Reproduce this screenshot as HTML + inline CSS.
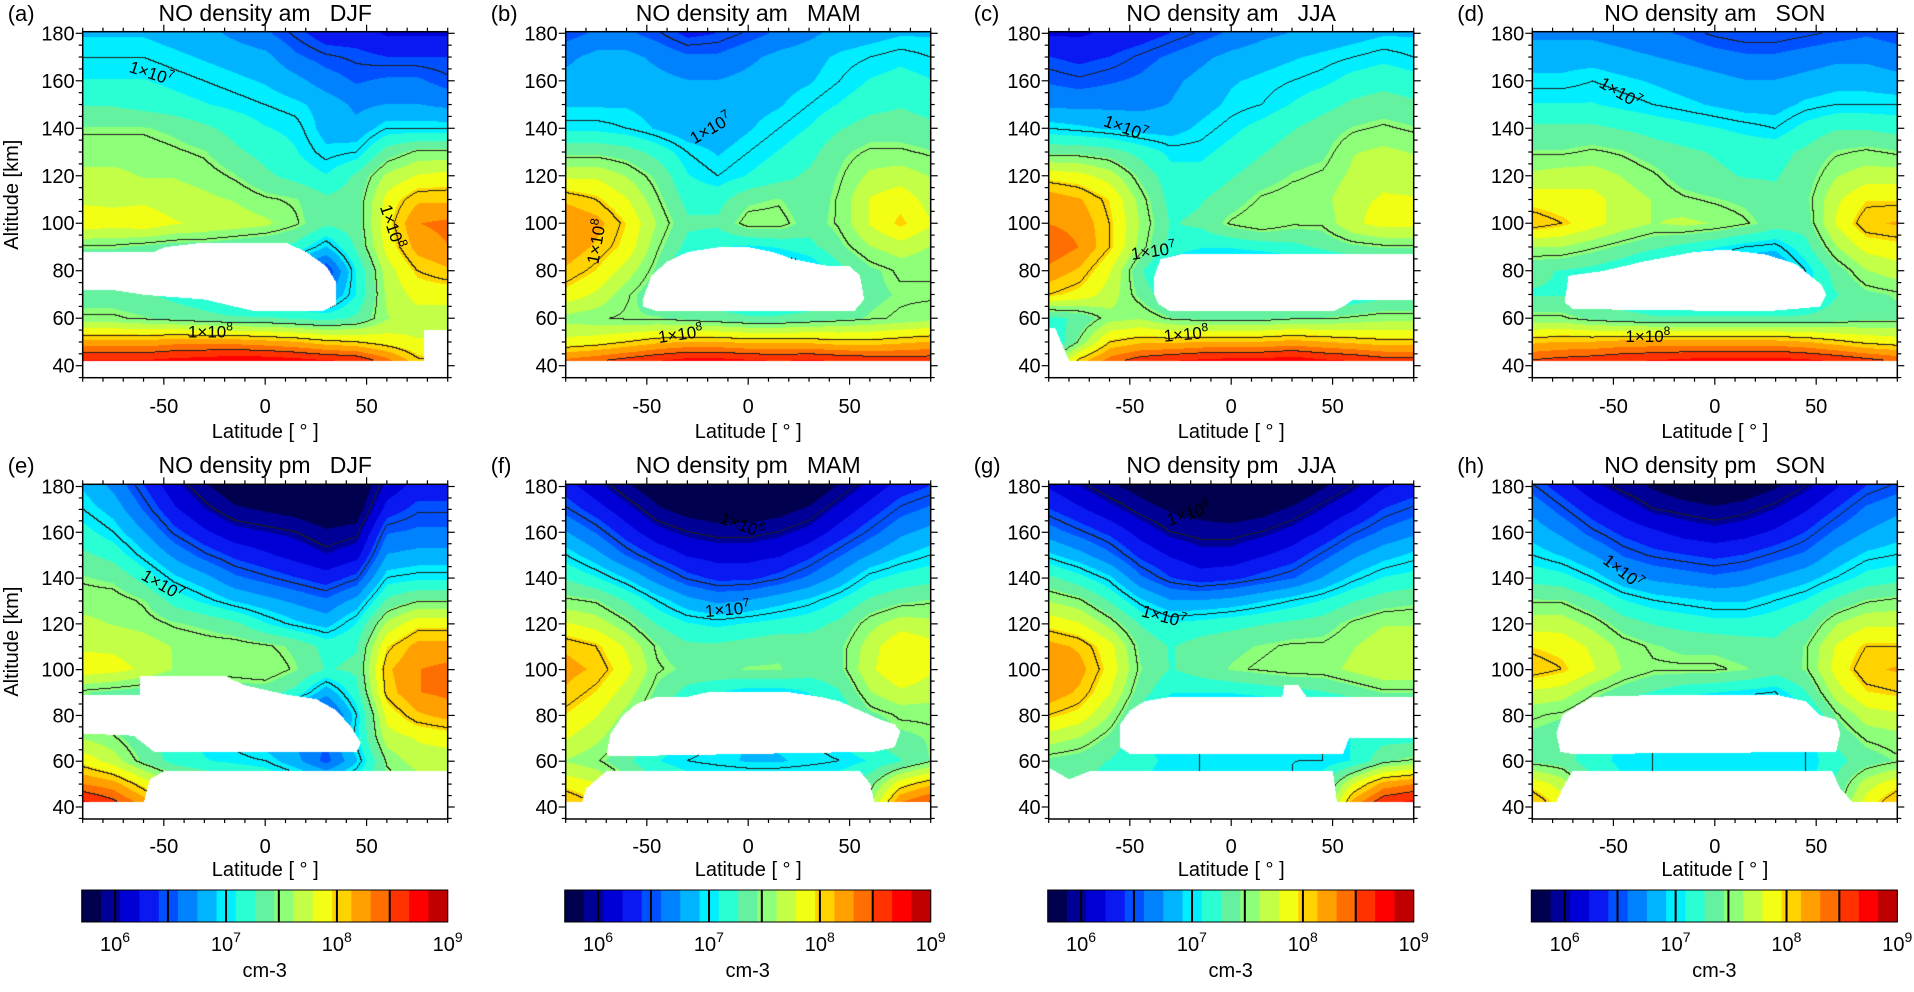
<!DOCTYPE html>
<html><head><meta charset="utf-8">
<style>
html,body{margin:0;padding:0;background:#fff;}
#wrap{position:relative;width:1914px;height:992px;overflow:hidden;font-family:"Liberation Sans",sans-serif;}
canvas{position:absolute;}
svg{position:absolute;left:0;top:0;}
</style></head>
<body>
<div id="wrap">
<svg id="svg" width="1914" height="992"></svg>
</div>
<script>
// ---- data (log10 NO density), rows alt 180..40 step 10, cols lat -90..90 step 15 ----
const lats=[-90,-75,-60,-45,-30,-15,0,15,30,45,60,75,90];
const alts=[180,170,160,150,140,130,120,110,100,90,80,70,60,50,40];
const gridA=[
[6.9,6.9,6.9,6.85,6.8,6.7,6.6,6.45,6.3,6.3,6.2,6.2,6.2],
[7.0,7.0,7.0,6.95,6.9,6.85,6.8,6.6,6.5,6.45,6.4,6.4,6.4],
[7.1,7.1,7.1,7.05,7.0,6.95,6.9,6.8,6.65,6.55,6.6,6.6,6.5],
[7.25,7.25,7.2,7.15,7.1,7.05,7.0,6.95,6.85,6.7,6.75,6.75,6.7],
[7.45,7.45,7.45,7.4,7.3,7.2,7.1,7.05,6.85,6.8,7.0,7.0,7.0],
[7.55,7.55,7.55,7.5,7.45,7.3,7.2,7.1,6.95,7.0,7.35,7.5,7.5],
[7.65,7.65,7.6,7.6,7.55,7.45,7.3,7.2,7.1,7.3,7.65,7.8,7.85],
[7.75,7.75,7.75,7.7,7.65,7.6,7.5,7.45,7.3,7.35,7.85,8.1,8.1],
[7.9,7.85,7.9,7.8,7.75,7.7,7.65,7.5,7.3,7.35,7.9,8.3,8.35],
[7.45,7.45,7.4,7.35,7.35,7.3,7.25,7.2,6.9,7.3,7.85,8.2,8.3],
[7.3,7.3,7.25,7.2,7.1,7.0,6.8,6.6,6.4,7.1,7.7,8.0,8.1],
[7.35,7.35,7.3,7.2,7.1,6.9,6.8,6.8,6.7,7.1,7.65,7.85,7.85],
[7.5,7.5,7.45,7.4,7.35,7.3,7.3,7.25,7.2,7.3,7.6,7.7,7.7],
[8.2,8.2,8.2,8.25,8.25,8.25,8.2,8.15,8.05,8.0,7.9,7.8,7.8],
[8.8,8.8,8.8,8.85,8.9,8.95,8.95,8.9,8.85,8.8,8.5,8.1,8.0]];
const gridB=[
[6.5,6.6,6.6,6.5,6.35,6.4,6.5,6.6,6.7,6.8,6.85,6.9,6.9],
[6.7,6.8,6.8,6.7,6.6,6.6,6.7,6.8,6.85,6.95,7.0,7.05,7.0],
[6.8,6.85,6.85,6.8,6.75,6.75,6.8,6.85,6.9,7.0,7.1,7.15,7.1],
[6.9,6.9,6.9,6.85,6.8,6.8,6.85,6.9,7.0,7.1,7.2,7.25,7.2],
[7.05,7.05,7.0,6.9,6.8,6.8,6.9,7.0,7.1,7.25,7.35,7.35,7.3],
[7.4,7.4,7.35,7.2,7.0,6.9,7.0,7.1,7.2,7.4,7.5,7.5,7.45],
[7.75,7.75,7.6,7.4,7.1,7.0,7.1,7.2,7.3,7.45,7.65,7.7,7.6],
[8.1,8.0,7.8,7.5,7.2,7.2,7.4,7.45,7.3,7.5,7.8,7.9,7.7],
[8.3,8.2,7.95,7.6,7.3,7.3,7.55,7.55,7.35,7.5,7.8,8.0,7.8],
[8.25,8.1,7.9,7.5,7.2,7.1,7.05,7.1,7.2,7.4,7.6,7.7,7.6],
[8.1,7.95,7.7,7.4,7.0,6.8,6.8,6.8,6.9,7.2,7.4,7.5,7.5],
[7.9,7.75,7.5,7.3,7.2,7.1,7.0,7.0,7.05,7.25,7.4,7.45,7.45],
[7.55,7.5,7.45,7.45,7.4,7.35,7.3,7.3,7.35,7.4,7.45,7.5,7.55],
[7.85,7.9,8.0,8.1,8.15,8.15,8.1,8.1,8.1,8.05,8.05,8.1,8.15],
[8.5,8.6,8.7,8.8,8.9,8.9,8.85,8.8,8.85,8.8,8.75,8.7,8.7]];
const gridC=[
[6.2,6.2,6.25,6.3,6.4,6.5,6.6,6.7,6.75,6.8,6.85,6.9,6.9],
[6.4,6.35,6.4,6.5,6.6,6.7,6.8,6.85,6.9,6.95,7.0,7.05,7.0],
[6.55,6.5,6.55,6.6,6.7,6.8,6.9,6.95,7.0,7.05,7.15,7.2,7.15],
[6.7,6.7,6.7,6.7,6.75,6.85,6.95,7.0,7.1,7.2,7.3,7.35,7.3],
[7.0,6.95,6.9,6.85,6.85,6.95,7.05,7.15,7.25,7.35,7.45,7.5,7.45],
[7.4,7.4,7.35,7.2,7.05,7.05,7.15,7.25,7.35,7.4,7.6,7.65,7.6],
[7.9,7.85,7.7,7.4,7.15,7.15,7.25,7.35,7.45,7.5,7.65,7.75,7.7],
[8.25,8.15,7.95,7.55,7.2,7.25,7.35,7.5,7.55,7.55,7.75,7.8,7.8],
[8.3,8.25,8.0,7.6,7.25,7.3,7.5,7.6,7.5,7.5,7.75,7.85,7.85],
[8.45,8.3,8.0,7.55,7.2,7.1,7.1,7.15,7.2,7.3,7.4,7.45,7.45],
[8.25,8.1,7.8,7.3,6.9,6.8,6.8,6.8,6.85,6.9,6.95,7.0,7.0],
[8.0,7.9,7.7,7.4,7.1,7.0,7.0,7.0,7.0,7.05,7.1,7.2,7.2],
[7.2,7.3,7.55,7.6,7.45,7.4,7.4,7.4,7.45,7.45,7.5,7.55,7.55],
[7.0,7.5,8.0,8.1,8.1,8.15,8.15,8.15,8.2,8.15,8.1,8.05,8.05],
[7.5,8.2,8.5,8.7,8.8,8.85,8.9,8.9,8.95,8.85,8.8,8.7,8.7]];
const gridD=[
[6.7,6.7,6.7,6.65,6.6,6.55,6.45,6.4,6.4,6.45,6.5,6.55,6.5],
[6.85,6.85,6.85,6.8,6.75,6.7,6.65,6.6,6.6,6.65,6.7,6.7,6.65],
[6.95,6.95,7.0,6.95,6.9,6.85,6.8,6.75,6.75,6.8,6.85,6.85,6.8],
[7.1,7.1,7.1,7.05,7.0,6.95,6.9,6.85,6.85,6.95,7.0,7.0,7.0],
[7.3,7.3,7.3,7.25,7.2,7.15,7.1,7.05,7.0,7.15,7.25,7.25,7.2],
[7.45,7.45,7.5,7.45,7.35,7.3,7.25,7.2,7.2,7.3,7.45,7.5,7.45],
[7.65,7.7,7.7,7.6,7.5,7.35,7.3,7.25,7.25,7.35,7.6,7.7,7.7],
[7.9,7.85,7.85,7.7,7.6,7.5,7.45,7.4,7.3,7.4,7.75,7.95,7.95],
[8.1,8.0,7.85,7.7,7.6,7.65,7.6,7.5,7.35,7.35,7.8,8.1,8.15],
[7.6,7.6,7.5,7.4,7.3,7.2,7.1,7.0,6.95,7.2,7.6,7.85,7.9],
[7.3,7.25,7.2,7.1,6.9,6.8,6.7,6.7,6.7,7.0,7.35,7.6,7.7],
[7.25,7.25,7.2,7.1,7.0,6.95,6.9,6.9,6.9,7.05,7.25,7.4,7.45],
[7.5,7.5,7.4,7.35,7.3,7.3,7.3,7.3,7.3,7.3,7.35,7.4,7.4],
[8.1,8.15,8.15,8.2,8.2,8.2,8.2,8.2,8.2,8.15,8.05,7.95,7.9],
[8.6,8.65,8.7,8.75,8.8,8.85,8.9,8.9,8.9,8.85,8.8,8.7,8.6]];
const gridE=[
[6.9,6.7,6.4,6.1,5.9,5.75,5.7,5.65,5.6,5.65,6.1,6.3,6.3],
[7.0,6.85,6.55,6.25,6.05,5.9,5.85,5.8,5.7,5.75,6.3,6.45,6.45],
[7.15,7.0,6.75,6.45,6.25,6.1,6.05,6.0,5.9,5.95,6.55,6.6,6.6],
[7.3,7.2,6.95,6.7,6.5,6.35,6.25,6.15,6.05,6.15,6.75,6.8,6.8],
[7.45,7.4,7.2,6.95,6.8,6.6,6.5,6.4,6.3,6.45,7.0,7.05,7.05],
[7.55,7.55,7.45,7.2,7.05,6.9,6.8,6.7,6.6,6.8,7.3,7.45,7.45],
[7.65,7.6,7.55,7.45,7.4,7.3,7.1,6.95,6.85,7.1,7.65,7.9,7.9],
[7.75,7.75,7.7,7.6,7.55,7.55,7.5,7.4,7.2,7.25,7.95,8.2,8.2],
[7.9,7.85,7.75,7.6,7.55,7.55,7.6,7.45,7.25,7.3,8.1,8.3,8.35],
[7.45,7.4,7.35,7.3,7.3,7.35,7.35,7.2,6.8,7.2,8.05,8.3,8.35],
[7.4,7.3,7.2,7.1,7.0,6.9,6.7,6.5,6.4,7.0,7.85,8.1,8.2],
[7.6,7.5,7.3,7.15,7.05,6.95,6.8,6.7,6.6,7.05,7.7,7.8,7.85],
[7.9,7.7,7.4,7.2,7.1,7.05,7.0,6.8,6.5,6.9,7.5,7.7,7.7],
[8.3,8.2,7.9,7.6,7.5,7.4,7.3,7.2,7.1,7.2,7.4,7.5,7.5],
[8.8,8.6,8.3,8.0,7.8,7.7,7.6,7.5,7.4,7.4,7.5,7.5,7.5]];
const gridF=[
[6.3,6.1,5.9,5.75,5.6,5.55,5.55,5.6,5.7,5.9,6.1,6.3,6.4],
[6.5,6.3,6.1,5.9,5.8,5.75,5.75,5.8,5.9,6.1,6.3,6.5,6.6],
[6.75,6.55,6.3,6.1,6.0,5.95,5.95,6.0,6.1,6.3,6.5,6.7,6.8],
[7.0,6.8,6.55,6.35,6.2,6.15,6.15,6.2,6.35,6.55,6.75,6.9,7.0],
[7.25,7.1,6.9,6.65,6.45,6.35,6.35,6.45,6.6,6.8,7.05,7.15,7.2],
[7.5,7.45,7.25,7.0,6.8,6.7,6.75,6.85,6.95,7.1,7.3,7.4,7.45],
[7.8,7.7,7.5,7.25,7.1,7.05,7.1,7.15,7.2,7.3,7.55,7.7,7.65],
[8.1,8.0,7.75,7.45,7.3,7.3,7.35,7.4,7.35,7.4,7.7,7.95,7.85],
[8.2,8.1,7.85,7.5,7.4,7.4,7.45,7.45,7.35,7.4,7.75,7.95,7.8],
[8.1,7.95,7.7,7.4,7.2,7.1,7.0,7.0,7.1,7.25,7.6,7.75,7.7],
[7.95,7.8,7.55,7.3,7.0,6.8,6.7,6.8,6.9,7.1,7.4,7.5,7.5],
[7.8,7.65,7.45,7.2,7.1,7.0,6.9,6.95,7.0,7.1,7.3,7.4,7.45],
[7.6,7.5,7.3,7.1,7.0,6.95,6.9,6.9,6.95,7.0,7.1,7.25,7.45],
[7.9,7.8,7.5,7.3,7.2,7.2,7.2,7.2,7.2,7.2,7.4,7.9,8.1],
[8.2,8.0,7.6,7.4,7.3,7.3,7.3,7.3,7.3,7.3,7.6,8.4,8.6]];
const gridG=[
[6.2,6.05,5.9,5.8,5.7,5.6,5.55,5.6,5.7,5.85,6.0,6.2,6.3],
[6.4,6.25,6.1,5.95,5.85,5.8,5.75,5.8,5.9,6.05,6.2,6.4,6.5],
[6.65,6.5,6.35,6.15,6.0,5.95,5.95,6.0,6.1,6.25,6.45,6.6,6.7],
[6.95,6.8,6.6,6.35,6.2,6.1,6.1,6.2,6.3,6.5,6.7,6.85,6.95],
[7.3,7.15,6.95,6.6,6.4,6.3,6.35,6.45,6.55,6.75,6.95,7.1,7.15],
[7.6,7.5,7.25,6.95,6.75,6.75,6.8,6.9,7.0,7.1,7.25,7.35,7.4],
[7.9,7.8,7.55,7.25,7.1,7.15,7.2,7.25,7.3,7.35,7.5,7.6,7.6],
[8.2,8.1,7.85,7.4,7.25,7.35,7.4,7.45,7.5,7.5,7.6,7.7,7.7],
[8.3,8.2,7.9,7.45,7.25,7.35,7.45,7.5,7.55,7.55,7.65,7.75,7.75],
[8.25,8.1,7.8,7.35,7.1,7.1,7.1,7.15,7.2,7.25,7.35,7.45,7.45],
[8.0,7.9,7.6,7.2,6.9,6.8,6.8,6.8,6.8,6.85,6.95,7.1,7.1],
[7.7,7.6,7.4,7.1,7.0,7.0,7.0,7.0,7.0,7.0,7.1,7.2,7.2],
[7.4,7.35,7.25,7.15,7.05,7.0,6.95,6.95,7.0,7.0,7.1,7.4,7.5],
[7.3,7.25,7.2,7.1,7.0,7.0,7.0,7.0,7.0,7.2,7.8,8.2,8.3],
[7.3,7.2,7.1,7.0,7.0,7.0,7.0,7.0,7.0,7.3,8.3,8.7,8.8]];
const gridH=[
[6.5,6.3,6.1,5.95,5.85,5.75,5.7,5.75,5.85,6.0,6.2,6.4,6.5],
[6.7,6.5,6.3,6.15,6.0,5.95,5.9,5.95,6.05,6.2,6.4,6.6,6.7],
[6.85,6.7,6.5,6.35,6.25,6.15,6.1,6.15,6.25,6.4,6.6,6.75,6.85],
[7.0,6.9,6.75,6.55,6.45,6.4,6.35,6.4,6.5,6.6,6.8,6.95,7.0],
[7.2,7.15,7.0,6.8,6.7,6.65,6.6,6.65,6.75,6.85,7.0,7.15,7.2],
[7.45,7.45,7.3,7.1,7.0,6.95,6.9,6.9,7.0,7.1,7.3,7.45,7.5],
[7.7,7.7,7.55,7.35,7.25,7.2,7.15,7.15,7.2,7.3,7.6,7.75,7.75],
[7.95,7.9,7.75,7.55,7.45,7.4,7.4,7.35,7.3,7.45,7.8,8.0,8.0],
[8.1,8.0,7.8,7.6,7.5,7.5,7.5,7.45,7.35,7.45,7.85,8.1,8.15],
[7.75,7.7,7.5,7.35,7.25,7.15,7.1,7.05,7.0,7.25,7.7,7.95,8.0],
[7.5,7.45,7.3,7.1,6.9,6.8,6.7,6.7,6.75,7.0,7.45,7.7,7.75],
[7.4,7.35,7.2,7.05,7.0,6.95,6.9,6.9,6.9,7.0,7.3,7.5,7.55],
[7.4,7.35,7.15,7.05,7.0,6.95,6.95,6.95,6.95,7.0,7.2,7.35,7.45],
[7.9,7.7,7.3,7.1,7.0,7.0,7.0,7.0,7.0,7.0,7.3,7.7,7.9],
[8.2,7.9,7.4,7.2,7.0,7.0,7.0,7.0,7.0,7.0,7.4,7.9,8.2]];
// no-data regions, polygons in (lat, alt)
const maskA=[[[-90,88],[-55,88],[-50,90],[-30,92],[10,92],[20,88],[30,82],[35,75],[35,66],[28,63],[-5,63],[-30,68],[-60,70],[-75,72],[-90,72]],[[78,35],[78,55],[90,55],[90,35]]];
const maskB=[[[-52,68],[-48,78],[-40,84],[-30,88],[-15,90],[0,90],[12,88],[22,85],[40,82],[50,82],[55,78],[57,68],[52,63],[-45,63],[-52,65]]];
const maskC=[[[-38,78],[-35,85],[-25,87],[90,87],[90,68],[60,68],[55,65],[50,63],[-30,63],[-36,66],[-38,70]],[[-90,56],[-87,56],[-80,42],[-90,42]]];
const maskD=[[[-73,72],[-72,78],[-55,80],[-35,84],[-10,88],[5,89],[25,87],[40,83],[53,74],[55,70],[52,65],[25,63],[-70,64],[-74,67]]];
const maskE=[[[-90,89],[-62,89],[-62,97],[-20,97],[-10,93],[10,89],[25,87],[35,82],[42,75],[47,68],[45,64],[-55,64],[-65,71],[-90,72]],[[-60,42],[-57,52],[-50,55.5],[90,55.5],[90,42]]];
const maskF=[[[-70,63],[-68,72],[-62,80],[-55,85],[-45,88],[-30,88],[-20,90],[20,90],[35,88],[45,86],[55,82],[65,78],[72,76],[75,73],[72,66],[62,64],[-68,62]],[[-82,42],[-80,48],[-70,55.5],[55,55.5],[60,50],[62,42]]];
const maskG=[[[-55,66],[-55,76],[-50,82],[-43,86],[-30,88],[25,88],[26,93],[33,93],[37,88],[90,88],[90,70],[58,70],[55,63],[-50,63]],[[-90,42],[-90,57],[-80,52],[-70,55.5],[50,55.5],[52,42]]];
const maskH=[[[-76,64],[-78,72],[-75,80],[-68,84],[-60,88],[-20,89],[30,89],[45,86],[52,80],[60,78],[62,72],[60,64],[-70,63]],[[-78,42],[-75,48],[-70,55.5],[58,55.5],[62,48],[68,42]]];
const letters=['(a)','(b)','(c)','(d)','(e)','(f)','(g)','(h)'];
const titles=['NO density am   DJF','NO density am   MAM','NO density am   JJA','NO density am   SON','NO density pm   DJF','NO density pm   MAM','NO density pm   JJA','NO density pm   SON'];
const contourLevels=[6.001,6.4771,7.001,7.4771,8.001,8.4771];
const cbTickLabels=['6','7','8','9'];
// contour labels: [lat, alt, exponent, rotation]
const labelsByPanel=[
[[-57,163,'7',18],[-27,54,'8',0],[60,100,'8',72]],
[[-17,140,'7',-30],[-72,94,'8',-80],[-33,53,'8',-8]],
[[-53,140,'7',20],[-38,88,'7',-8],[-22,53,'8',-5]],
[[-48,155,'7',30],[-33,52,'8',0]],
[[-52,137,'7',30]],
[[-4,163,'6',20],[-10,126,'7',-5]],
[[-20,168,'6',-18],[-34,123,'7',15]],
[[-47,143,'7',38]]];
const grids=[gridA,gridB,gridC,gridD,gridE,gridF,gridG,gridH];
const masks=[maskA,maskB,maskC,maskD,maskE,maskF,maskG,maskH];
const bandColors=['#00004e','#000096','#0000d6','#0a18f2','#0050ff','#0082ff','#00b4ff','#00eeff','#2affd4','#64f2a0','#8eff78','#c2ff46','#f2ff14','#ffd200','#ffa000','#ff6e00','#ff3200','#ff0000','#c00000'];
const vMin=5.6995, vMax=9;

// ---- layout ----
const colLeft=[82.7,565.7,1048.7,1532.3];
const PW=365;
const rows=[{top:31.7,bot:377.7,y40:365.7,y180:33.3,titleY:21,xlabY:413,latY:438},
            {top:484.3,bot:819,y40:807,y180:486.5,titleY:473,xlabY:853,latY:876}];
const NS='http://www.w3.org/2000/svg';
const svg=document.getElementById('svg');
const wrap=document.getElementById('wrap');
function mk(tag,attrs,parent){const e=document.createElementNS(NS,tag);for(const k in attrs)e.setAttribute(k,attrs[k]);(parent||svg).appendChild(e);return e;}
function hex(c){return [parseInt(c.substr(1,2),16),parseInt(c.substr(3,2),16),parseInt(c.substr(5,2),16)];}
const rgb=bandColors.map(hex);
const bw=(vMax-vMin)/bandColors.length;
function inPoly(x,y,poly){let c=false;for(let i=0,j=poly.length-1;i<poly.length;j=i++){const xi=poly[i][0],yi=poly[i][1],xj=poly[j][0],yj=poly[j][1];if(((yi>y)!=(yj>y))&&(x<(xj-xi)*(y-yi)/(yj-yi)+xi))c=!c;}return c;}
function sample(g,lat,alt){
  let fi=(lat-lats[0])/(lats[1]-lats[0]);let fj=(alts[0]-alt)/(alts[0]-alts[1]);
  fi=Math.max(0,Math.min(lats.length-1.0001,fi));fj=Math.max(0,Math.min(alts.length-1.0001,fj));
  const i=Math.floor(fi),j=Math.floor(fj),u=fi-i,v=fj-j;
  return g[j][i]*(1-u)*(1-v)+g[j][i+1]*u*(1-v)+g[j+1][i]*(1-u)*v+g[j+1][i+1]*u*v;}
function cnt(v){let n=0;for(const l of contourLevels)if(v>=l)n++;return n;}

for(let p=0;p<8;p++){
  const r=rows[Math.floor(p/4)], L=colLeft[p%4], H=Math.round(r.bot-r.top);
  const g=grids[p], m=masks[p];
  const ky=(r.y40-r.y180)/140;
  const xS=lat=>L+(lat+90)/180*PW;
  const yS=alt=>r.y40-(alt-40)*ky;
  const cv=document.createElement('canvas');cv.width=PW;cv.height=H;
  cv.style.left=L+'px';cv.style.top=r.top+'px';
  
  
  wrap.insertBefore(cv,svg);
  const ctx=cv.getContext('2d');const img=ctx.createImageData(PW,H);const d=img.data;
  const vals=new Float32Array(PW*H);
  for(let py=0;py<H;py++){const alt=40+(r.y40-(r.top+py+0.5))/ky;
    for(let px=0;px<PW;px++){const lat=-90+(px+0.5)/PW*180;
      let masked=alt<42;
      if(!masked)for(const poly of m){if(inPoly(lat,alt,poly)){masked=true;break;}}
      vals[py*PW+px]=masked?NaN:sample(g,lat,alt);}}
  for(let py=0;py<H;py++)for(let px=0;px<PW;px++){
    const k=py*PW+px,v=vals[k];let c=[255,255,255];
    if(!isNaN(v)){let b=Math.floor((v-vMin)/bw);b=Math.max(0,Math.min(bandColors.length-1,b));c=rgb[b];
      const n=cnt(v);
      if(px<PW-1&&!isNaN(vals[k+1])&&cnt(vals[k+1])!=n)c=[30,30,30];
      else if(py<H-1&&!isNaN(vals[k+PW])&&cnt(vals[k+PW])!=n)c=[30,30,30];}
    d[k*4]=c[0];d[k*4+1]=c[1];d[k*4+2]=c[2];d[k*4+3]=255;}
  ctx.putImageData(img,0,0);
  const fr=mk('rect',{x:L,y:r.top,width:PW,height:r.bot-r.top,fill:'none',stroke:'#000','stroke-width':1.5});
  
  const tg=mk('g',{stroke:'#000','stroke-width':1.2});
  
  for(let lat=-90;lat<=90;lat+=10){const x=xS(lat);const len=(lat%50==0)?7:4;
    mk('line',{x1:x,y1:r.bot,x2:x,y2:r.bot+len},tg);mk('line',{x1:x,y1:r.top,x2:x,y2:r.top-len},tg);}
  for(let alt=35;alt<=180;alt+=5){const y=yS(alt);const len=(alt%20==0)?7:4;
    mk('line',{x1:L,y1:y,x2:L-len,y2:y},tg);mk('line',{x1:L+PW,y1:y,x2:L+PW+len,y2:y},tg);}
  for(const lat of [-50,0,50]){const t=mk('text',{x:xS(lat),y:r.xlabY,'text-anchor':'middle','font-size':20});t.textContent=lat;
    }
  for(let alt=40;alt<=180;alt+=20){const t=mk('text',{x:L-8,y:yS(alt)+7,'text-anchor':'end','font-size':20});t.textContent=alt;
    }
  const xt=mk('text',{x:L+PW/2,y:r.latY,'text-anchor':'middle','font-size':20});xt.textContent='Latitude [ ° ]';
  
  if(p%4==0){const cy=(r.top+r.bot)/2-10;const yt=mk('text',{x:0,y:0,'text-anchor':'middle','font-size':20,transform:`translate(18,${cy}) rotate(-90)`});yt.textContent='Altitude [km]';
    }
  const tt=mk('text',{x:L+PW/2,y:r.titleY,'text-anchor':'middle','font-size':23,'xml:space':'preserve',style:'white-space:pre'});tt.textContent=titles[p];
  
  const lt=mk('text',{x:L-75,y:r.titleY,'font-size':22});lt.textContent=letters[p];
  
  for(const lb of labelsByPanel[p]){
    const t=mk('text',{x:0,y:0,'text-anchor':'middle','font-size':17,transform:`translate(${xS(lb[0])},${yS(lb[1])+5}) rotate(${lb[3]})`});
    
    t.appendChild(document.createTextNode('1×10'));const s=mk('tspan',{dy:-7,'font-size':12},t);s.textContent=lb[2];}
}
// colorbars
for(let c=0;c<4;c++){
  const L=colLeft[c]-1, W=PW+1, top=890, h=32;
  const xV=v=>L+(v-vMin)/(vMax-vMin)*W;
  const cg=mk('g',{});
  bandColors.forEach((col,i)=>{const r=mk('rect',{x:xV(vMin+i*bw),y:top,width:W/bandColors.length+0.5,height:h,fill:col},cg);
    });
  mk('rect',{x:L,y:top,width:W,height:h,fill:'none',stroke:'#000','stroke-width':1},cg);
  for(const lv of contourLevels){mk('line',{x1:xV(lv),y1:top,x2:xV(lv),y2:top+h,stroke:'#000','stroke-width':2},cg);}
  cbTickLabels.forEach(e=>{const t=mk('text',{x:xV(+e),y:951,'text-anchor':'middle','font-size':20},cg);
    
    t.appendChild(document.createTextNode('10'));const s=mk('tspan',{dy:-9,'font-size':14},t);s.textContent=e;});
  const u=mk('text',{x:L+W/2,y:977,'text-anchor':'middle','font-size':20},cg);u.textContent='cm-3';
  
}
</script>
</body></html>
